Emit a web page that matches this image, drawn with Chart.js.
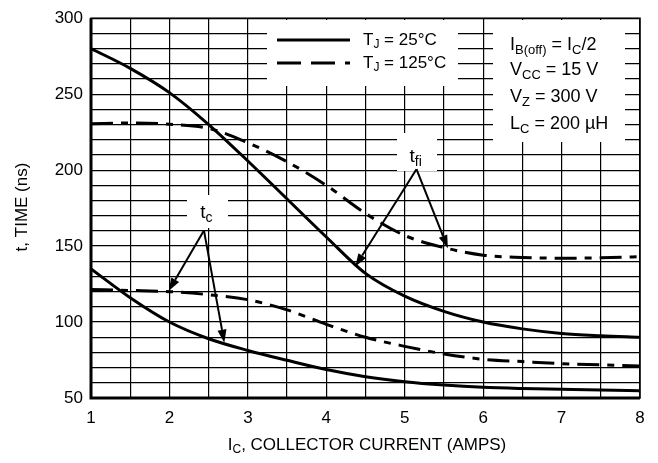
<!DOCTYPE html>
<html>
<head>
<meta charset="utf-8">
<script src="https://cdn.jsdelivr.net/npm/chart.js@4.4.0/dist/chart.umd.min.js"></script>
<style>
  html, body { margin: 0; padding: 0; background: #fff; }
</style>
</head>
<body>
<canvas id="chart" width="658" height="463"></canvas>
<script>
// collector current (A)
const currentAmps = [1, 1.5, 2, 2.5, 3, 3.5, 4, 4.5, 5, 5.5, 6, 6.5, 7, 7.5, 8];
// fall time t_fi (ns)
const tfi25 = [280, 267, 251, 230, 206, 181, 156, 132, 117, 107, 100, 95.5, 92.5, 91, 90];
const tfi125 = [230.5, 231, 230.2, 227.5, 218, 205.5, 190, 171.5, 157, 149, 144, 142.5, 142, 142.3, 143];
// crossover time t_c (ns)
const tc25 = [135, 116, 100, 89, 81.3, 74.8, 68.7, 64, 60.7, 58.5, 57, 56.2, 55.7, 55.2, 54.8];
const tc125 = [121.5, 120.8, 120, 118, 114.7, 108, 98.5, 90, 84, 79, 75.5, 74, 72.6, 71.8, 71];

const xTicks = [1, 2, 3, 4, 5, 6, 7, 8];
const yTicks = [50, 100, 150, 200, 250, 300];

// arrow annotations, in data units: label point, apex, tips
const tfiNote = { label: [5.14, 209], apex: [5.15, 200.6], tips: [[4.37, 136.5], [5.55, 148.6]] };
const tcNote = { label: [2.47, 172], apex: [2.44, 160.3], tips: [[1.99, 120.5], [2.70, 86.4]] };

const FONT = '"Liberation Sans", Arial, sans-serif';
const DASH = [22, 8, 7, 8];

function pts(ys) {
    return currentAmps.map((x, i) => ({ x: x, y: ys[i] }));
}

function line(ys, dashed) {
    return {
        data: pts(ys),
        borderColor: '#000',
        borderWidth: 3,
        borderDash: dashed ? DASH : [],
        pointRadius: 0,
        cubicInterpolationMode: 'monotone',
        fill: false
    };
}

// text with subscripts: parts = [[text, isSub], ...]
function drawRich(ctx, parts, x, y, size, align) {
    const subSize = Math.round(size * 0.72);
    let w = 0;
    parts.forEach(([t, s]) => {
        ctx.font = `${s ? subSize : size}px ${FONT}`;
        w += ctx.measureText(t).width;
    });
    let cx = align === 'center' ? x - w / 2 : x;
    ctx.textAlign = 'left';
    ctx.textBaseline = 'middle';
    parts.forEach(([t, s]) => {
        ctx.font = `${s ? subSize : size}px ${FONT}`;
        ctx.fillText(t, cx, s ? y + size * 0.3 : y);
        cx += ctx.measureText(t).width;
    });
}

function arrow(ctx, x0, y0, x1, y1) {
    const ang = Math.atan2(y1 - y0, x1 - x0);
    const len = 13, half = 4.5;
    const bx = x1 - Math.cos(ang) * len, by = y1 - Math.sin(ang) * len;
    ctx.beginPath();
    ctx.moveTo(x0, y0);
    ctx.lineTo(bx, by);
    ctx.stroke();
    ctx.beginPath();
    ctx.moveTo(x1, y1);
    ctx.lineTo(bx - Math.sin(ang) * half, by + Math.cos(ang) * half);
    ctx.lineTo(bx + Math.sin(ang) * half, by - Math.cos(ang) * half);
    ctx.closePath();
    ctx.fill();
}

const overlay = {
    id: 'overlay',
    beforeDatasetsDraw(chart) {
        const ctx = chart.ctx;
        const a = chart.chartArea;
        ctx.save();
        // white patches behind legend, conditions and labels
        ctx.fillStyle = '#fff';
        ctx.fillRect(267, 20, 191, 66);
        ctx.fillRect(493, 20, 132, 122);
        ctx.fillRect(397, 133, 40, 38);
        ctx.fillRect(187, 195, 41, 33);
        // frame
        ctx.strokeStyle = '#000';
        ctx.lineWidth = 1.5;
        ctx.strokeRect(a.left, a.top, a.right - a.left, a.bottom - a.top);
        ctx.lineWidth = 3;
        ctx.beginPath();
        ctx.moveTo(a.left, a.top);
        ctx.lineTo(a.left, a.bottom);
        ctx.lineTo(a.right, a.bottom);
        ctx.stroke();
        ctx.restore();
    },
    afterDatasetsDraw(chart) {
        const ctx = chart.ctx;
        const xs = chart.scales.x, ys = chart.scales.y;
        const P = p => [xs.getPixelForValue(p[0]), ys.getPixelForValue(p[1])];
        ctx.save();
        ctx.fillStyle = '#000';
        ctx.strokeStyle = '#000';

        // legend
        ctx.lineWidth = 3;
        ctx.beginPath();
        ctx.moveTo(277, 40); ctx.lineTo(350, 40);
        ctx.stroke();
        ctx.setLineDash([24, 10]);
        ctx.beginPath();
        ctx.moveTo(277, 63); ctx.lineTo(350, 63);
        ctx.stroke();
        ctx.setLineDash([]);
        drawRich(ctx, [['T', 0], ['J', 1], [' = 25°C', 0]], 363, 40, 17, 'left');
        drawRich(ctx, [['T', 0], ['J', 1], [' = 125°C', 0]], 363, 63, 17, 'left');

        // test conditions
        drawRich(ctx, [['I', 0], ['B(off)', 1], [' = I', 0], ['C', 1], ['/2', 0]], 510, 45, 18, 'left');
        drawRich(ctx, [['V', 0], ['CC', 1], [' = 15 V', 0]], 510, 70, 18, 'left');
        drawRich(ctx, [['V', 0], ['Z', 1], [' = 300 V', 0]], 510, 97, 18, 'left');
        drawRich(ctx, [['L', 0], ['C', 1], [' = 200 µH', 0]], 510, 124, 18, 'left');

        // arrows
        ctx.lineWidth = 2;
        [tfiNote, tcNote].forEach(n => {
            const ap = P(n.apex);
            n.tips.forEach(t => {
                const tp = P(t);
                arrow(ctx, ap[0], ap[1], tp[0], tp[1]);
            });
        });
        const lf = P(tfiNote.label);
        drawRich(ctx, [['t', 0], ['fi', 1]], lf[0], lf[1], 19, 'center');
        const lc = P(tcNote.label);
        drawRich(ctx, [['t', 0], ['c', 1]], lc[0], lc[1], 19, 'center');

        // axis titles
        drawRich(ctx, [['I', 0], ['C', 1], [', COLLECTOR CURRENT (AMPS)', 0]], 367, 445, 17, 'center');
        ctx.translate(22, 207);
        ctx.rotate(-Math.PI / 2);
        drawRich(ctx, [['t, TIME (ns)', 0]], 0, 0, 17, 'center');
        ctx.restore();
    }
};

new Chart(document.getElementById('chart'), {
    type: 'line',
    data: {
        datasets: [line(tfi25, false), line(tfi125, true), line(tc25, false), line(tc125, true)]
    },
    options: {
        responsive: false,
        animation: false,
        layout: { padding: { left: 0, right: 18, top: 15, bottom: 0 } },
        plugins: { legend: { display: false }, tooltip: { enabled: false } },
        scales: {
            x: {
                type: 'linear',
                min: 1, max: 8,
                afterFit: s => { s.height = 65; },
                afterBuildTicks: s => {
                    const t = [];
                    for (let v = xTicks[0]; v <= xTicks[xTicks.length - 1] + 1e-9; v += 0.5) t.push({ value: v });
                    s.ticks = t;
                },
                grid: { color: '#000', lineWidth: 1.2, drawTicks: false },
                border: { display: false },
                ticks: {
                    autoSkip: false, maxRotation: 0, padding: 10, color: '#000',
                    font: { family: FONT, size: 17 },
                    callback: v => xTicks.includes(v) ? String(v) : ''
                }
            },
            y: {
                min: 50, max: 300,
                afterFit: s => { s.width = 91; },
                afterBuildTicks: s => {
                    const t = [];
                    for (let v = yTicks[0]; v <= yTicks[yTicks.length - 1]; v += 10) t.push({ value: v });
                    s.ticks = t;
                },
                grid: { color: '#000', lineWidth: 1.2, drawTicks: false },
                border: { display: false },
                ticks: {
                    autoSkip: false, padding: 8, color: '#000',
                    font: { family: FONT, size: 17 },
                    callback: v => yTicks.includes(v) ? String(v) : ''
                }
            }
        }
    },
    plugins: [overlay]
});
</script>
</body>
</html>
